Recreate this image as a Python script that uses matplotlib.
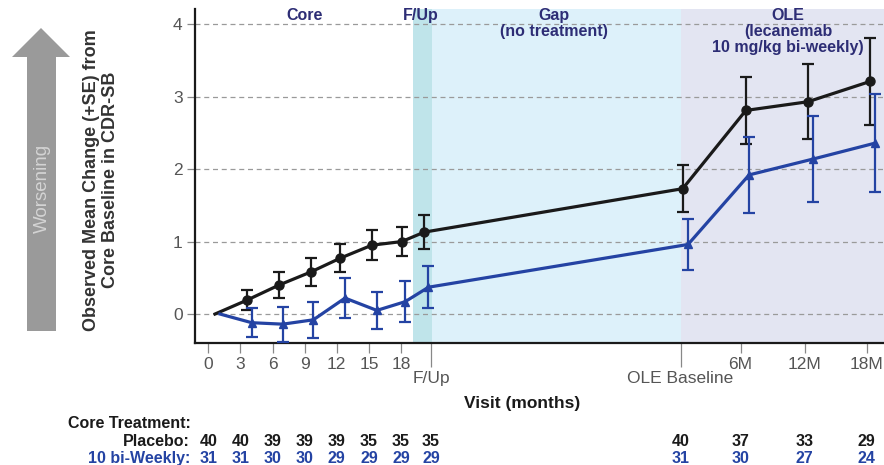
import matplotlib
matplotlib.use("Agg")
import matplotlib.pyplot as plt
from matplotlib.patches import Polygon

plt.rcParams['font.family'] = ['Liberation Sans', 'DejaVu Sans']

# Data (x in "plot months", OLE visits placed after the gap)
x_placebo = [0.63, 3.59, 6.61, 9.57, 12.31, 15.27, 18.07, 20.16, 44.3, 50.2, 56.0, 61.8]
y_placebo = [0.0, 0.19, 0.40, 0.58, 0.77, 0.95, 1.00, 1.13, 1.73, 2.81, 2.93, 3.21]
se_placebo = [0.0, 0.14, 0.18, 0.19, 0.19, 0.21, 0.20, 0.23, 0.32, 0.46, 0.52, 0.60]

x_lec = [1.09, 4.06, 6.95, 9.81, 12.77, 15.74, 18.38, 20.56, 44.8, 50.5, 56.5, 62.3]
y_lec = [0.0, -0.12, -0.14, -0.08, 0.22, 0.05, 0.17, 0.37, 0.96, 1.92, 2.14, 2.36]
se_lec = [0.0, 0.20, 0.24, 0.25, 0.28, 0.26, 0.28, 0.29, 0.35, 0.53, 0.60, 0.68]

tick_pos = [0, 3, 6, 9, 12, 15, 18, 49.7, 55.7, 61.5]
tick_lab = ['0', '3', '6', '9', '12', '15', '18', '6M', '12M', '18M']
long_tick_pos = [20.8, 44.1]
long_tick_lab = ['F/Up', 'OLE Baseline']

n_pos = [0, 3, 6, 9, 12, 15, 18, 20.8, 44.1, 49.7, 55.7, 61.5]
n_placebo = [40, 40, 39, 39, 39, 35, 35, 35, 40, 37, 33, 29]
n_lec = [31, 31, 30, 30, 29, 29, 29, 29, 31, 30, 27, 24]

BLACK = '#1a1a1a'
BLUE = '#2443a3'
NAVY = '#2d2d75'
GRAY = '#555555'

W, H = 884, 465
fig = plt.figure(figsize=(W / 100, H / 100), dpi=100)
ax = fig.add_axes([195 / W, 1 - 343 / H, (W - 195) / W, (343 - 9) / H])

ax.set_xlim(-1.24, 63.1)
ax.set_ylim(-0.40, 4.21)

# phase shading
ax.axvspan(19.1, 20.9, color='#bfe4ea', lw=0, zorder=0)
ax.axvspan(20.9, 44.1, color='#ddf1fa', lw=0, zorder=0)
ax.axvspan(44.1, 63.1, color='#e3e5f2', lw=0, zorder=0)

for v in range(5):
    ax.axhline(v, color='#9a9a9a', lw=0.9, ls=(0, (4, 3)), zorder=1)

# lines
ax.plot(x_placebo, y_placebo, color=BLACK, lw=2.3, zorder=3)
ax.errorbar(x_placebo[1:], y_placebo[1:], yerr=se_placebo[1:], fmt='o', color=BLACK,
            ms=6.5, elinewidth=1.6, capsize=4.3, capthick=1.6, zorder=3)
ax.plot(x_lec, y_lec, color=BLUE, lw=2.3, zorder=4)
ax.errorbar(x_lec[1:], y_lec[1:], yerr=se_lec[1:], fmt='^', color=BLUE,
            ms=6, elinewidth=1.6, capsize=4.3, capthick=1.6, zorder=4)

# spines / ticks
for s in ['top', 'right']:
    ax.spines[s].set_visible(False)
for s in ['left', 'bottom']:
    ax.spines[s].set_linewidth(1.6)
    ax.spines[s].set_color(BLACK)

ax.set_yticks(range(5))
ax.tick_params(axis='y', length=6, width=0.9, color='#888888', labelsize=12.5,
               labelcolor=GRAY, pad=3)
ax.set_xticks(tick_pos)
ax.set_xticklabels(tick_lab)
ax.set_xticks(long_tick_pos, minor=True)
ax.set_xticklabels(long_tick_lab, minor=True)
ax.tick_params(axis='x', which='major', length=7, width=0.9, color='#888888',
               labelsize=12.5, labelcolor=GRAY, pad=3)
ax.tick_params(axis='x', which='minor', length=17, width=0.9, color='#888888',
               labelsize=12.5, labelcolor=GRAY, pad=3)

ax.set_xlabel('Visit (months)', fontsize=12.5, fontweight='bold', color=BLACK)
ax.xaxis.set_label_coords((522 - 195) / (W - 195), -(396 - 343) / (343 - 9))

# phase labels
phase_kw = dict(ha='center', va='top', fontsize=11.5, fontweight='bold', color=NAVY,
                linespacing=1.1, transform=fig.transFigure)
fig.text(305 / W, 1 - 8 / H, 'Core', **phase_kw)
fig.text(421 / W, 1 - 8 / H, 'F/Up', **phase_kw)
fig.text(554 / W, 1 - 8 / H, 'Gap\n(no treatment)', **phase_kw)
fig.text(788 / W, 1 - 8 / H, 'OLE\n(lecanemab\n10 mg/kg bi-weekly)', **phase_kw)

# y label
fig.text(101 / W, 1 - 180 / H, 'Observed Mean Change (+SE) from\nCore Baseline in CDR-SB',
         rotation=90, ha='center', va='center', fontsize=13, fontweight='bold',
         color='#333333', linespacing=1.1)

# worsening arrow
pts = [(41, 28), (70, 57), (56, 57), (56, 331), (27, 331), (27, 57), (12, 57)]
arrow = Polygon([(px / W, 1 - py / H) for px, py in pts], closed=True,
                facecolor='#9a9a9a', edgecolor='none', transform=fig.transFigure)
fig.patches.append(arrow)
fig.text(42 / W, 1 - 188 / H, 'Worsening', rotation=90, ha='center', va='center',
         fontsize=13.5, color='#d4d4d4')

# n table
fs = 11.5
fig.text(68 / W, 1 - 423 / H, 'Core Treatment:', ha='left', va='center',
         fontsize=fs, fontweight='bold', color=BLACK)
fig.text(190 / W, 1 - 441 / H, 'Placebo:', ha='right', va='center',
         fontsize=fs, fontweight='bold', color=BLACK)
fig.text(190 / W, 1 - 458 / H, '10 bi-Weekly:', ha='right', va='center',
         fontsize=fs, fontweight='bold', color=BLUE)
for xp, a, b in zip(n_pos, n_placebo, n_lec):
    xf = fig.transFigure.inverted().transform(ax.transData.transform((xp, 0)))[0]
    fig.text(xf, 1 - 441 / H, str(a), ha='center', va='center', fontsize=fs,
             fontweight='bold', color=BLACK)
    fig.text(xf, 1 - 458 / H, str(b), ha='center', va='center', fontsize=fs,
             fontweight='bold', color=BLUE)

fig.savefig('out.png', dpi=100)
